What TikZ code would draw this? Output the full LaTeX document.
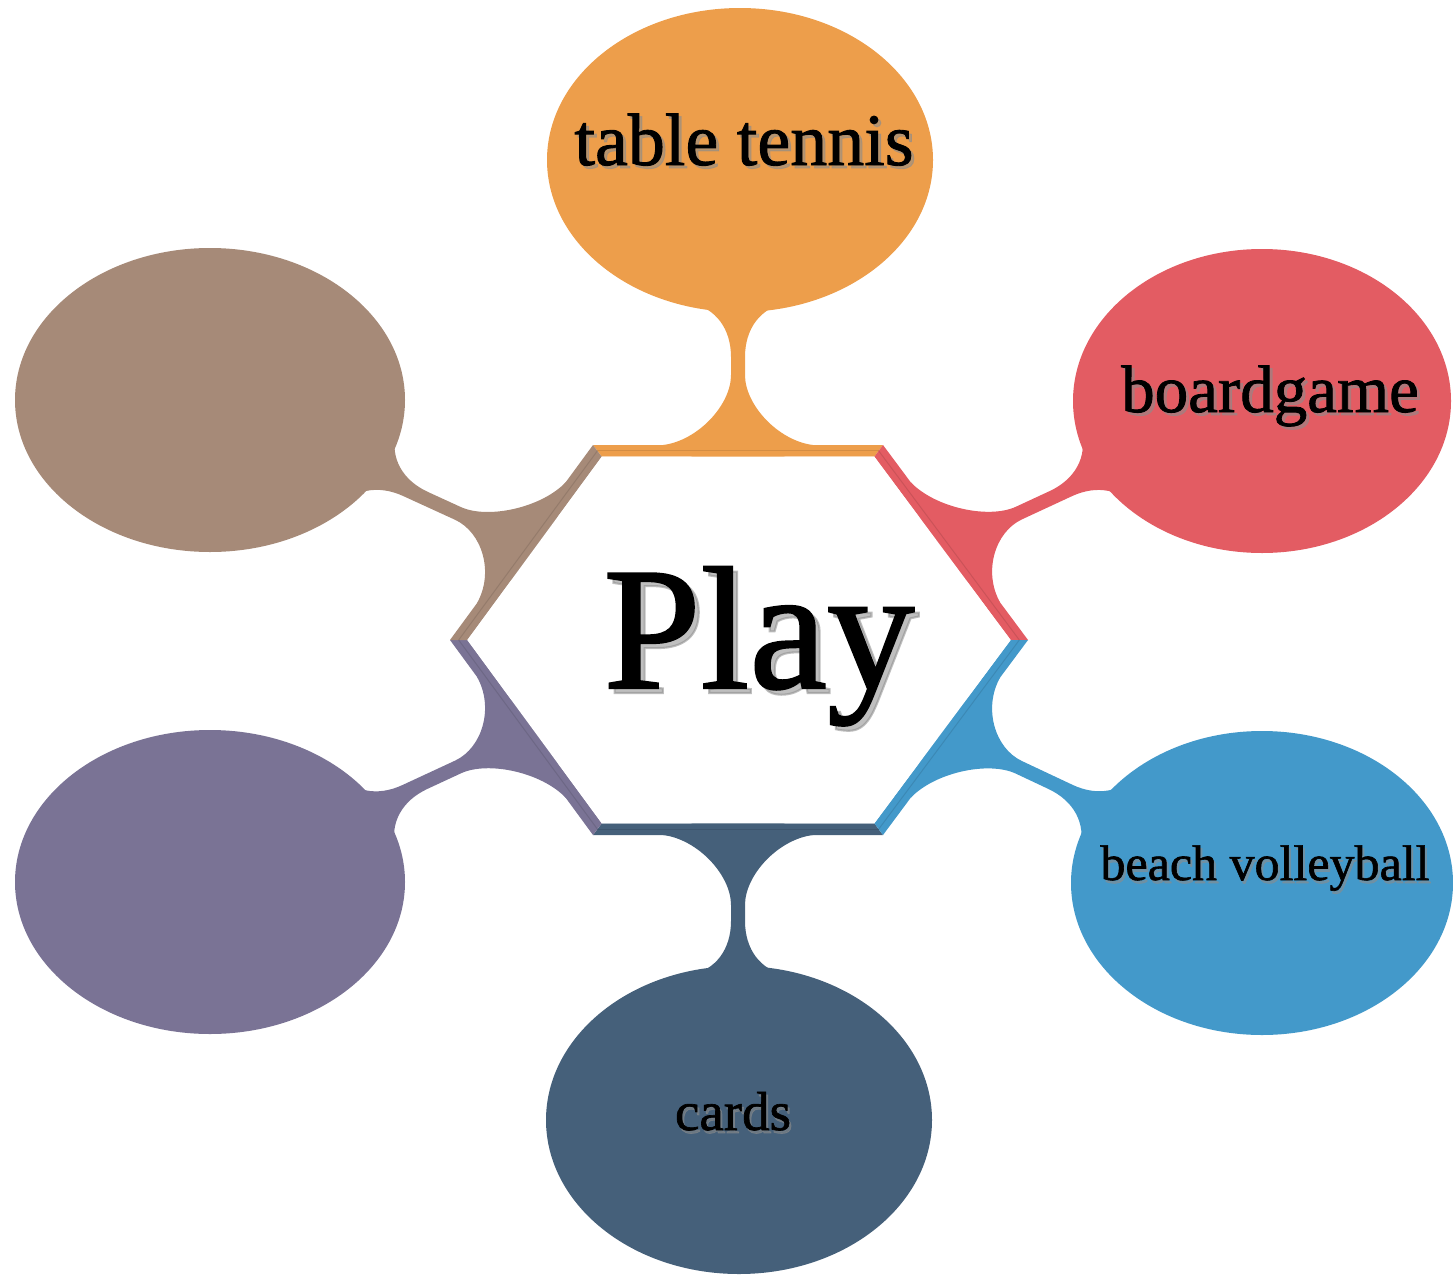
\documentclass[tikz,border=0pt]{standalone}
\usepackage{fontspec}
\setmainfont[FakeBold=1.2]{Liberation Serif}
\usetikzlibrary{calc,shapes.geometric}
\definecolor{cOr}{HTML}{ED9E4B}
\definecolor{cRe}{HTML}{E35C63}
\definecolor{cBl}{HTML}{4399CA}
\definecolor{cDb}{HTML}{45607A}
\definecolor{cPu}{HTML}{7A7395}
\definecolor{cBr}{HTML}{A68A78}
\tikzset{
  bubble/.style={ellipse, draw=none, inner sep=0pt, minimum width=386pt, minimum height=304pt},
  lbl/.style={inner sep=0pt, anchor=base, text=black},
  lblshadow/.style={inner sep=0pt, anchor=base, text=black!45, opacity=0.55},
  bandline/.style={line width=1pt, opacity=0.35}
}
% neck: #1 band midpoint, #2 axis angle, #3 band tilt, #4 length (-v side), #5 length (+v side), #6 colour
\newcommand\drawneck[6]{%
  \begin{scope}[shift={(#1)},rotate=#2]
    \fill[#6] ({-90+(#3)}:75) .. controls +({83+(#3)}:35) and +(180:30) .. (70,-7)
      -- ({#4-50},-7) .. controls ({#4-22},-7) and ({#4-1},-22) .. ({#4+4},-48)
      -- ({max(#4,#5)+90},-48) -- ({max(#4,#5)+90},48) -- ({#5+4},48)
      .. controls ({#5-1},22) and ({#5-22},7) .. ({#5-50},7) -- (70,7)
      .. controls +(180:30) and +({-83+(#3)}:35) .. ({90+(#3)}:75) -- (-30,0) -- cycle;
  \end{scope}}
\begin{document}
\begin{tikzpicture}[x=1pt,y=1pt]
\useasboundingbox (0,0) rectangle (1453,-1274);
% hexagon geometry
\coordinate (c) at (739,-640);
\coordinate (o1) at (593,-445);
\coordinate (o2) at (883,-445);
\coordinate (o3) at (1028,-640);
\coordinate (o4) at (883,-835);
\coordinate (o5) at (593,-835);
\coordinate (o6) at (450,-640);
\foreach \k in {1,...,6}{\coordinate (i\k) at ($(c)!0.94!(o\k)$);}
\coordinate (mT) at ($(o1)!0.5!(o2)$);
\coordinate (mR) at ($(o2)!0.5!(o3)$);
\coordinate (mBR) at ($(o3)!0.5!(o4)$);
\coordinate (mB) at ($(o4)!0.5!(o5)$);
\coordinate (mBL) at ($(o5)!0.5!(o6)$);
\coordinate (mL) at ($(o6)!0.5!(o1)$);
% necks
\drawneck{mT}{90}{0}{138}{138}{cOr}
\drawneck{mR}{24.9}{11.7}{175}{157}{cRe}
\drawneck{mBR}{-25.2}{-11.4}{156}{176}{cBl}
\drawneck{mB}{-90}{0}{136}{136}{cDb}
\drawneck{mBL}{204.9}{11.4}{178}{157}{cPu}
\drawneck{mL}{155.4}{-11.7}{156}{177}{cBr}
% bands
\fill[cOr] (o1) -- (o2) -- (i2) -- (i1) -- cycle;
\fill[cDb] (o4) -- (o5) -- (i5) -- (i4) -- cycle;
\fill[cRe] (o2) -- (o3) -- (i3) -- (i2) -- cycle;
\fill[cBl] (o3) -- (o4) -- (i4) -- (i3) -- cycle;
\fill[cPu] (o5) -- (o6) -- (i6) -- (i5) -- cycle;
\fill[cBr] (o6) -- (o1) -- (i1) -- (i6) -- cycle;
\draw[bandline, cOr!70!black] ($(o1)!0.5!(i1)$) -- ($(o2)!0.5!(i2)$);
\draw[bandline, cRe!70!black] ($(o2)!0.5!(i2)$) -- ($(o3)!0.5!(i3)$);
\draw[bandline, cBl!70!black] ($(o3)!0.5!(i3)$) -- ($(o4)!0.5!(i4)$);
\draw[bandline, cDb!70!black] ($(o4)!0.5!(i4)$) -- ($(o5)!0.5!(i5)$);
\draw[bandline, cPu!70!black] ($(o5)!0.5!(i5)$) -- ($(o6)!0.5!(i6)$);
\draw[bandline, cBr!70!black] ($(o6)!0.5!(i6)$) -- ($(o1)!0.5!(i1)$);
\fill[white] (i1) -- (i2) -- (i3) -- (i4) -- (i5) -- (i6) -- cycle;
% bubbles
\node[bubble, fill=cOr] (eT) at (740,-160) {};
\node[bubble, fill=cRe, minimum width=378pt] (eR) at (1262,-401) {};
\node[bubble, fill=cBl, minimum width=382pt] (eBR) at (1262,-883) {};
\node[bubble, fill=cDb, minimum height=308pt] (eB) at (739,-1120) {};
\node[bubble, fill=cPu, minimum width=390pt] (eBL) at (210,-882) {};
\node[bubble, fill=cBr, minimum width=390pt] (eL) at (210,-400) {};
% texts
\node[lblshadow, font=\fontsize{175}{175}\selectfont] (playS) at (764,-693) {Play};
\node[lbl, font=\fontsize{175}{175}\selectfont] (play) at (759,-688) {Play};
\node[lblshadow, font=\fontsize{74}{74}\selectfont] (ttS) at (747,-168) {table tennis};
\node[lbl, font=\fontsize{74}{74}\selectfont] (tt) at (744,-165) {table tennis};
\node[lblshadow, font=\fontsize{67}{67}\selectfont] (bgS) at (1273,-415) {boardgame};
\node[lbl, font=\fontsize{67}{67}\selectfont] (bg) at (1270,-412) {boardgame};
\node[lblshadow, font=\fontsize{50}{50}\selectfont] (bvS) at (1267,-883) {beach volleyball};
\node[lbl, font=\fontsize{50}{50}\selectfont] (bv) at (1265,-880) {beach volleyball};
\node[lblshadow, font=\fontsize{55}{55}\selectfont] (cdS) at (735,-1133) {cards};
\node[lbl, font=\fontsize{55}{55}\selectfont] (cd) at (733,-1130) {cards};
\end{tikzpicture}
\end{document}
